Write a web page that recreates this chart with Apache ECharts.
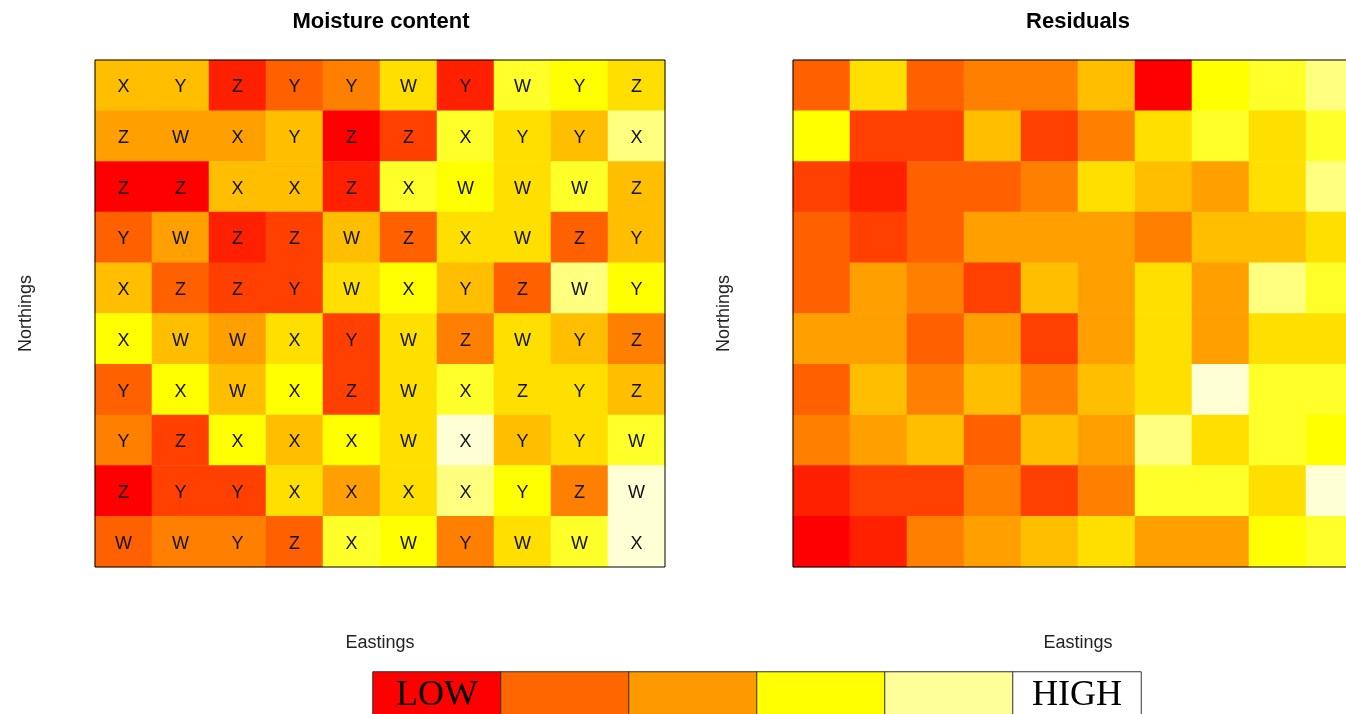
<!DOCTYPE html>
<html>
<head>
<meta charset="utf-8">
<script src="https://cdn.jsdelivr.net/npm/echarts@6/dist/echarts.min.js"></script>
<style>
  html, body { margin: 0; padding: 0; background: #fff; }
  #chart { width: 1346px; height: 714px; }
</style>
</head>
<body>
<div id="chart"></div>
<script>
// heat colour levels, 0 = lowest (red) .. 11 = highest (pale)
const heatPalette = ['#FF0000', '#FF2000', '#FF4000', '#FF6000', '#FF8000', '#FF9F00',
  '#FFBF00', '#FFDF00', '#FFFF00', '#FFFF2A', '#FFFF80', '#FFFFD5']

// rows from top (north) to bottom, columns west -> east
const moistureLevels = [
  [6, 6, 1, 3, 4, 7, 1, 9, 8, 7],
  [5, 5, 5, 6, 0, 2, 9, 7, 6, 10],
  [0, 0, 6, 6, 1, 9, 8, 7, 9, 6],
  [3, 5, 1, 2, 6, 3, 7, 7, 3, 6],
  [6, 3, 2, 2, 7, 8, 6, 3, 10, 8],
  [8, 6, 5, 7, 2, 7, 4, 7, 6, 4],
  [3, 8, 6, 8, 2, 7, 9, 7, 7, 6],
  [4, 2, 8, 6, 8, 7, 11, 6, 7, 9],
  [0, 2, 2, 7, 5, 7, 10, 8, 4, 11],
  [3, 4, 4, 3, 9, 8, 4, 7, 9, 11]
]

const treatments = [
  ['X', 'Y', 'Z', 'Y', 'Y', 'W', 'Y', 'W', 'Y', 'Z'],
  ['Z', 'W', 'X', 'Y', 'Z', 'Z', 'X', 'Y', 'Y', 'X'],
  ['Z', 'Z', 'X', 'X', 'Z', 'X', 'W', 'W', 'W', 'Z'],
  ['Y', 'W', 'Z', 'Z', 'W', 'Z', 'X', 'W', 'Z', 'Y'],
  ['X', 'Z', 'Z', 'Y', 'W', 'X', 'Y', 'Z', 'W', 'Y'],
  ['X', 'W', 'W', 'X', 'Y', 'W', 'Z', 'W', 'Y', 'Z'],
  ['Y', 'X', 'W', 'X', 'Z', 'W', 'X', 'Z', 'Y', 'Z'],
  ['Y', 'Z', 'X', 'X', 'X', 'W', 'X', 'Y', 'Y', 'W'],
  ['Z', 'Y', 'Y', 'X', 'X', 'X', 'X', 'Y', 'Z', 'W'],
  ['W', 'W', 'Y', 'Z', 'X', 'W', 'Y', 'W', 'W', 'X']
]

const residualLevels = [
  [3, 7, 3, 4, 4, 6, 0, 8, 9, 10],
  [8, 2, 2, 6, 2, 4, 7, 9, 7, 9],
  [2, 1, 3, 3, 4, 7, 6, 5, 7, 10],
  [3, 2, 3, 5, 5, 5, 4, 6, 6, 7],
  [3, 5, 4, 2, 6, 5, 7, 5, 10, 9],
  [5, 5, 3, 5, 2, 5, 7, 5, 7, 7],
  [3, 6, 4, 6, 4, 6, 7, 11, 9, 9],
  [4, 5, 6, 3, 6, 5, 10, 7, 9, 8],
  [1, 2, 2, 4, 2, 4, 9, 9, 7, 11],
  [0, 1, 4, 5, 6, 7, 5, 5, 8, 9]
]

const keyColors = ['#FF0000', '#FF6600', '#FF9900', '#FFFF00', '#FFFF99', '#FFFFFF']
const keyLabels = ['LOW', '', '', '', '', 'HIGH']

const eastings = ['1', '2', '3', '4', '5', '6', '7', '8', '9', '10']
const northings = ['1', '2', '3', '4', '5', '6', '7', '8', '9', '10']

const toCells = (levels, letters) => {
  const cells = []
  levels.forEach((row, r) => {
    row.forEach((v, c) => {
      cells.push(letters ? [c, r, v, letters[r][c]] : [c, r, v])
    })
  })
  return cells
}

const myChart = echarts.init(document.getElementById('chart'))

const fontSans = 'Liberation Sans, Arial, sans-serif'

const plotAxisX = (gridIndex) => ({
  type: 'category',
  gridIndex,
  data: eastings,
  name: 'Eastings',
  nameLocation: 'middle',
  nameGap: 67,
  nameTextStyle: {color: '#222', fontSize: 18, fontFamily: fontSans},
  axisLine: {show: false},
  axisTick: {show: false},
  axisLabel: {show: false},
  splitLine: {show: false}
})

const plotAxisY = (gridIndex) => ({
  type: 'category',
  gridIndex,
  data: northings,
  inverse: true,
  name: 'Northings',
  nameLocation: 'middle',
  nameGap: 60,
  nameTextStyle: {color: '#222', fontSize: 18, fontFamily: fontSans},
  axisLine: {show: false},
  axisTick: {show: false},
  axisLabel: {show: false},
  splitLine: {show: false}
})

const option = {
  animation: false,
  backgroundColor: '#fff',
  title: [
    {
      text: 'Moisture content', left: 376, top: 6, textAlign: 'center',
      textStyle: {fontSize: 22, fontWeight: 'bold', color: '#000', fontFamily: fontSans}
    },
    {
      text: 'Residuals', left: 1073, top: 6, textAlign: 'center',
      textStyle: {fontSize: 22, fontWeight: 'bold', color: '#000', fontFamily: fontSans}
    }
  ],
  grid: [
    {left: 95, top: 60, width: 570, height: 507, show: true, z: 10,
      borderColor: '#000', borderWidth: 1, backgroundColor: 'transparent',
      outerBoundsMode: 'none'},
    {left: 793, top: 60, width: 570, height: 507, show: true, z: 10,
      borderColor: '#000', borderWidth: 1, backgroundColor: 'transparent',
      outerBoundsMode: 'none'},
    {left: 373, top: 672, width: 768, height: 46, outerBoundsMode: 'none'}
  ],
  xAxis: [
    plotAxisX(0),
    plotAxisX(1),
    {type: 'category', gridIndex: 2, data: keyLabels.map((_, i) => String(i)), show: false}
  ],
  yAxis: [
    plotAxisY(0),
    plotAxisY(1),
    {type: 'category', gridIndex: 2, data: ['key'], show: false}
  ],
  visualMap: {
    type: 'piecewise',
    show: false,
    seriesIndex: [0, 1],
    dimension: 2,
    pieces: heatPalette.map((color, i) => ({value: i, color}))
  },
  series: [
    {
      name: 'Moisture content',
      type: 'heatmap',
      xAxisIndex: 0,
      yAxisIndex: 0,
      data: toCells(moistureLevels, treatments),
      label: {
        show: true,
        formatter: (p) => p.data[3],
        color: '#111',
        fontSize: 18,
        fontFamily: fontSans,
        offset: [0, 2]
      },
      itemStyle: {borderWidth: 0}
    },
    {
      name: 'Residuals',
      type: 'heatmap',
      xAxisIndex: 1,
      yAxisIndex: 1,
      data: toCells(residualLevels),
      itemStyle: {borderWidth: 0}
    },
    {
      name: 'Key',
      type: 'heatmap',
      xAxisIndex: 2,
      yAxisIndex: 2,
      data: keyColors.map((color, i) => ({
        value: [i, 0, i, keyLabels[i]],
        itemStyle: {color}
      })),
      label: {
        show: true,
        formatter: (p) => p.data.value[3],
        color: '#000',
        fontSize: 36,
        fontFamily: 'Liberation Serif, Times New Roman, serif',
        position: 'insideTop',
        distance: 6
      },
      itemStyle: {borderColor: '#333', borderWidth: 1}
    }
  ]
}

myChart.setOption(option)
</script>
</body>
</html>
